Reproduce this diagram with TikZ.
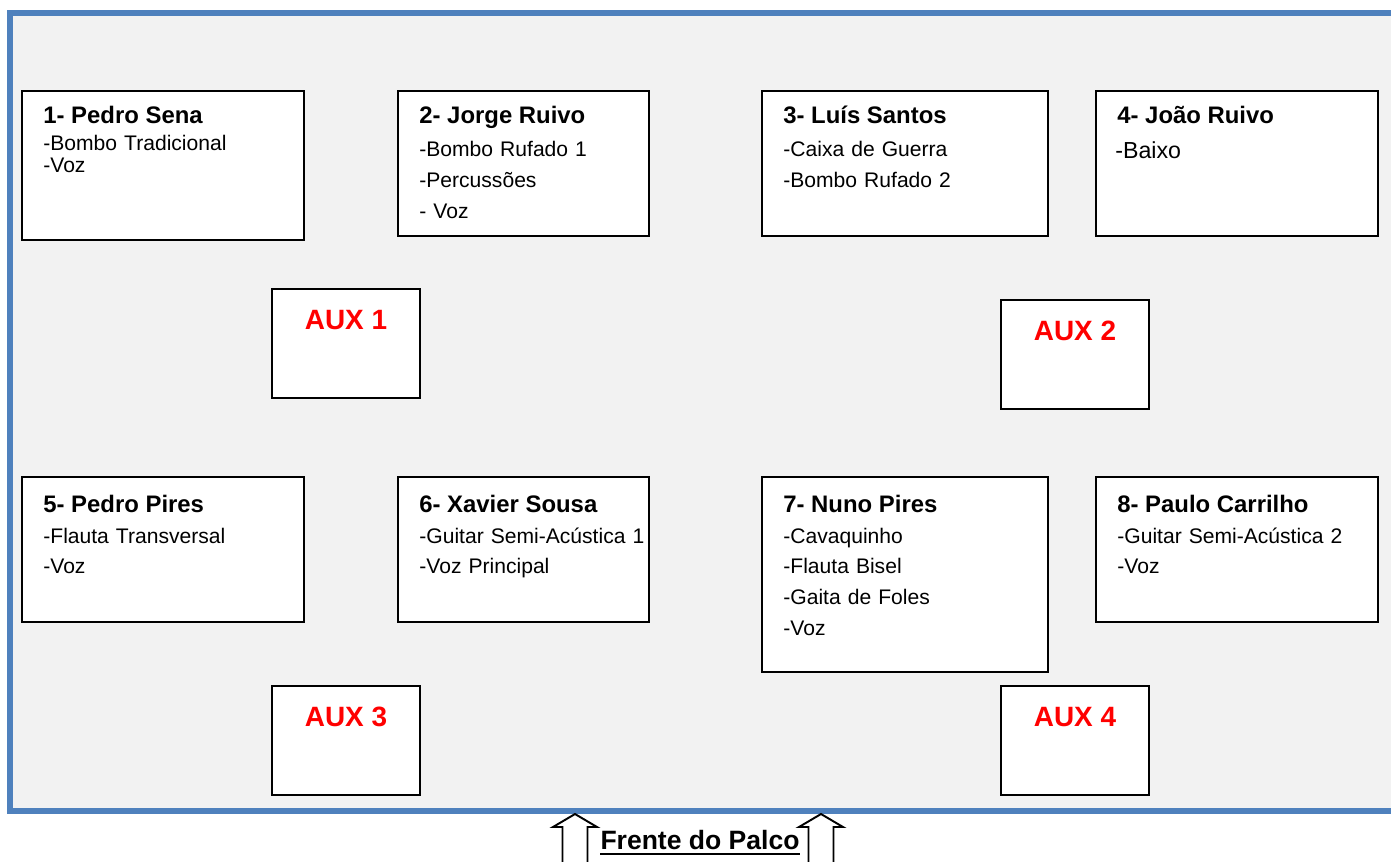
\documentclass[tikz,border=0pt]{standalone}
\usepackage{fontspec}
\setmainfont{Liberation Sans}
\usetikzlibrary{positioning}
\definecolor{frameblue}{HTML}{4F81BD}
\definecolor{stagegrey}{HTML}{F2F2F2}
\newcommand{\namefont}{\fontsize{13.6}{16}\selectfont\bfseries}
\newcommand{\listfont}{\fontsize{12}{17.6}\selectfont}

\begin{document}
\begin{tikzpicture}[x=0.02cm,y=-0.02cm,
  player/.style 2 args={draw=black,fill=white,line width=1pt,anchor=north west,
    inner sep=0pt,outer sep=0pt,minimum width=#1,minimum height=#2},
  auxbox/.style={player={2.96cm}{2.18cm}},
  pname/.style={anchor=base west,inner sep=0pt,font=\namefont},
  plist/.style={anchor=base west,inner sep=0pt,text width=5cm,align=left,font=\listfont},
  auxname/.style={anchor=base,inner sep=0pt,text=red,font=\fontsize{15.9}{18}\selectfont\bfseries}]
\useasboundingbox (0,0) rectangle (1391,861);
% stage
\fill[stagegrey] (10,13) rectangle (1430,811);
\draw[frameblue,line width=3.4pt] (1430,13) -- (10,13) -- (10,811) -- (1430,811);
% musicians, back row
\node[player={5.64cm}{2.98cm}] (p1) at (22,91) {};
\node[player={5.02cm}{2.9cm}] (p2) at (398,91) {};
\node[player={5.72cm}{2.9cm}] (p3) at (762,91) {};
\node[player={5.64cm}{2.9cm}] (p4) at (1096,91) {};
\node[pname] (p1name) at ([shift={(21,33)}]p1.north west) {1- Pedro Sena};
\node[plist,font=\fontsize{12}{12.5}\selectfont] (p1list) at ([shift={(21,60)}]p1.north west) {-Bombo Tradicional\\-Voz};
\node[pname] (p2name) at ([shift={(21,33)}]p2.north west) {2- Jorge Ruivo};
\node[plist] (p2list) at ([shift={(21,66)}]p2.north west) {-Bombo Rufado 1\\-Percussões\\- Voz};
\node[pname] (p3name) at ([shift={(21,33)}]p3.north west) {3- Luís Santos};
\node[plist] (p3list) at ([shift={(21,66)}]p3.north west) {-Caixa de Guerra\\-Bombo Rufado 2};
\node[pname] (p4name) at ([shift={(21,33)}]p4.north west) {4- João Ruivo};
\node[plist,font=\fontsize{13.2}{17.6}\selectfont] (p4list) at ([shift={(19,68)}]p4.north west) {-Baixo};
% aux monitors
\node[auxbox] (a1) at (272,289) {};
\node[auxbox] (a2) at (1001,300) {};
\node[auxbox] (a3) at (272,686) {};
\node[auxbox] (a4) at (1001,686) {};
\node[auxname] (a1name) at ([shift={(0,40)}]a1.north) {AUX 1};
\node[auxname] (a2name) at ([shift={(0,40)}]a2.north) {AUX 2};
\node[auxname] (a3name) at ([shift={(0,40)}]a3.north) {AUX 3};
\node[auxname] (a4name) at ([shift={(0,40)}]a4.north) {AUX 4};
% musicians, front row
\node[player={5.64cm}{2.9cm}] (p5) at (22,477) {};
\node[player={5.02cm}{2.9cm}] (p6) at (398,477) {};
\node[player={5.72cm}{3.9cm}] (p7) at (762,477) {};
\node[player={5.64cm}{2.9cm}] (p8) at (1096,477) {};
\node[pname] (p5name) at ([shift={(21,35)}]p5.north west) {5- Pedro Pires};
\node[plist] (p5list) at ([shift={(21,66)}]p5.north west) {-Flauta Transversal\\-Voz};
\node[pname] (p6name) at ([shift={(21,35)}]p6.north west) {6- Xavier Sousa};
\node[plist] (p6list) at ([shift={(21,66)}]p6.north west) {-Guitar Semi-Acústica 1\\-Voz Principal};
\node[pname] (p7name) at ([shift={(21,35)}]p7.north west) {7- Nuno Pires};
\node[plist] (p7list) at ([shift={(21,66)}]p7.north west) {-Cavaquinho\\-Flauta Bisel\\-Gaita de Foles\\-Voz};
\node[pname] (p8name) at ([shift={(21,35)}]p8.north west) {8- Paulo Carrilho};
\node[plist] (p8list) at ([shift={(21,66)}]p8.north west) {-Guitar Semi-Acústica 2\\-Voz};
% front of stage
\foreach \c in {575,821}
  \filldraw[fill=white,draw=black,line width=1.1pt]
    (\c-12.5,880) -- (\c-12.5,827) -- (\c-22,827) -- (\c,814) -- (\c+22,827) -- (\c+12.5,827) -- (\c+12.5,880);
\node[anchor=base,inner sep=0pt,font=\fontsize{15.1}{18}\selectfont\bfseries] (front) at (700,849) {Frente do Palco};
\draw[line width=1.4pt] ([shift={(0,5)}]front.base west) -- ([shift={(0,5)}]front.base east);
\end{tikzpicture}
\end{document}
